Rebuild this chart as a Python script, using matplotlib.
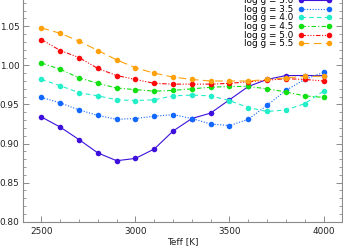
import numpy as np
import matplotlib
matplotlib.use('Agg')
import matplotlib.pyplot as plt
from matplotlib.ticker import MultipleLocator

# effective temperatures (K)
teff = [2500, 2600, 2700, 2800, 2900, 3000, 3100, 3200,
        3300, 3400, 3500, 3600, 3700, 3800, 3900, 4000]

# ratio values, one list per surface gravity
logg_30 = [0.934, 0.921, 0.905, 0.888, 0.878, 0.881, 0.893, 0.916,
           0.932, 0.939, 0.956, 0.973, 0.982, 0.987, 0.987, 0.987]
logg_35 = [0.959, 0.952, 0.943, 0.936, 0.931, 0.932, 0.935, 0.937,
           0.932, 0.925, 0.923, 0.931, 0.949, 0.968, 0.982, 0.991]
logg_40 = [0.982, 0.974, 0.965, 0.961, 0.956, 0.955, 0.956, 0.961,
           0.962, 0.961, 0.955, 0.946, 0.941, 0.943, 0.951, 0.967]
logg_45 = [1.003, 0.995, 0.984, 0.977, 0.971, 0.969, 0.967, 0.968,
           0.970, 0.972, 0.973, 0.973, 0.970, 0.966, 0.961, 0.959]
logg_50 = [1.033, 1.019, 1.010, 0.996, 0.987, 0.982, 0.977, 0.976,
           0.976, 0.976, 0.977, 0.979, 0.981, 0.983, 0.982, 0.980]
logg_55 = [1.048, 1.041, 1.031, 1.019, 1.007, 0.997, 0.990, 0.985,
           0.982, 0.980, 0.980, 0.980, 0.982, 0.984, 0.986, 0.986]

labels = ['log g = 3.0', 'log g = 3.5', 'log g = 4.0',
          'log g = 4.5', 'log g = 5.0', 'log g = 5.5']
series = [logg_30, logg_35, logg_40, logg_45, logg_50, logg_55]

colors = ['#3d10dc', '#1268ff', '#22eec8', '#12e012', '#fa0a0a', '#ffa10a']
styles = ['-', (0, (1, 1.5)), (0, (4, 3)), (0, (4, 2, 1, 2)),
          (0, (4, 1.5, 1, 1.5, 1, 1.5, 1, 1.5)), (0, (7, 4))]

plt.rcParams['font.family'] = 'DejaVu Sans'
fig = plt.figure(figsize=(3.43, 2.49), dpi=100)
ax = fig.add_axes([0.066, 0.1096, 0.932, 0.9418])

for vals, lab, col, ls in zip(series, labels, colors, styles):
    ax.plot(teff, vals, color=col, linestyle=ls, lw=0.8,
            marker='o', markersize=4, markeredgewidth=0, label=lab)

ax.set_xlim(2400, 4100)
ax.set_ylim(0.80, 1.10)
ax.xaxis.set_major_locator(MultipleLocator(500))
ax.xaxis.set_minor_locator(MultipleLocator(100))
ax.yaxis.set_major_locator(MultipleLocator(0.05))
ax.yaxis.set_minor_locator(MultipleLocator(0.01))
ax.yaxis.set_major_formatter(matplotlib.ticker.FormatStrFormatter('%.2f'))

grey = '#8a8a8a'
for sp in ax.spines.values():
    sp.set_color(grey)
    sp.set_linewidth(0.8)
ax.tick_params(which='both', direction='in', top=True, right=True,
               color=grey, labelsize=6.4, labelcolor='#222222')
ax.tick_params(which='major', length=4, width=0.7)
ax.tick_params(which='minor', length=2, width=0.6)
ax.tick_params(axis='y', pad=2.3)
ax.tick_params(axis='x', pad=3.5)

ax.set_xlabel('Teff [K]', fontsize=6.4, color='#222222', labelpad=1)

ax.legend(loc='upper right', bbox_to_anchor=(0.968, 0.962), frameon=False,
          markerfirst=False, fontsize=6.4, numpoints=2, handlelength=3.8,
          handletextpad=0.6, labelspacing=-0.04, borderpad=0, borderaxespad=0)

fig.savefig('out.png', dpi=100)
